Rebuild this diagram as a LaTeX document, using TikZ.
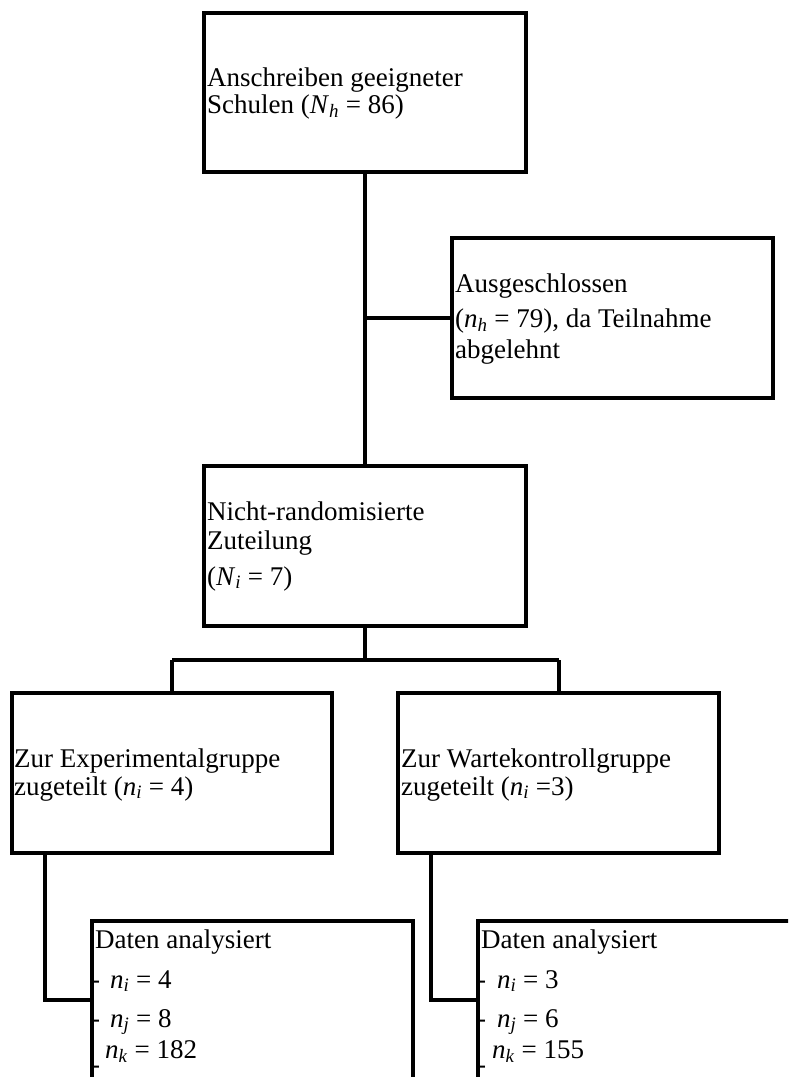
\documentclass[tikz,border=0pt]{standalone}
\usepackage{fontspec}
\setmainfont{Liberation Serif}
% italic variable with italic subscript, e.g. n_i
\newcommand\nsub[2]{\textit{#1}\textsubscript{\textit{#2}}}
\begin{document}
\begin{tikzpicture}[x=1pt,y=-1pt,
  box/.style={draw, line width=4pt, rectangle, anchor=north west, inner sep=0pt, outer sep=0pt},
  link/.style={line width=4pt},
  txt/.style={anchor=base west, inner sep=0pt, font=\fontsize{27}{30}\selectfont}]
\useasboundingbox (0,0) rectangle (788,1077);
\clip (0,0) rectangle (788,1077);

% boxes
\node[box, minimum width=322, minimum height=159] (b1) at (204,13) {};
\node[box, minimum width=321, minimum height=160] (b2) at (452,238) {};
\node[box, minimum width=322, minimum height=160] (b3) at (204,466) {};
\node[box, minimum width=320, minimum height=160] (b4) at (12,693) {};
\node[box, minimum width=321, minimum height=160] (b5) at (398,693) {};
\node[box, minimum width=321, minimum height=220] (b6) at (92,921) {};
\node[box, minimum width=400, minimum height=220] (b7) at (478,921) {};

% connector points
\coordinate (split) at (b3.south |- 0,660);
\coordinate (k6) at (b6.west |- 0,1000);
\coordinate (k7) at (b7.west |- 0,1000);

% connectors
\draw[link] (b3.north) -- (b3.north |- b1.south);
\draw[link] (b3.north |- b2.west) -- (b2.west);
\draw[link] (b3.south) -- (split);
\draw[link] (b4.north |- split) -- (b5.north |- split);
\draw[link] (b4.north |- split) -- (b4.north);
\draw[link] (b5.north |- split) -- (b5.north);
\draw[link] ([xshift=33pt]b4.south west) |- (k6);
\draw[link] ([xshift=33pt]b5.south west) |- (k7);

% texts
\node[txt] (t1a) at (207,86) {Anschreiben geeigneter};
\node[txt] (t1b) at (207,113) {Schulen (\nsub{N}{h} = 86)};

\node[txt] (t2a) at (455,292) {Ausgeschlossen};
\node[txt] (t2b) at (455,327) {(\nsub{n}{h} = 79), da Teilnahme};
\node[txt] (t2c) at (455,358) {abgelehnt};

\node[txt] (t3a) at (207,520) {Nicht-randomisierte};
\node[txt] (t3b) at (207,549) {Zuteilung};
\node[txt] (t3c) at (207,585) {(\nsub{N}{i} = 7)};

\node[txt] (t4a) at (14,767) {Zur Experimentalgruppe};
\node[txt] (t4b) at (14,795) {zugeteilt (\nsub{n}{i} = 4)};

\node[txt] (t5a) at (401,767) {Zur Wartekontrollgruppe};
\node[txt] (t5b) at (401,795) {zugeteilt (\nsub{n}{i} =3)};

\node[txt] (t6a) at (95,948) {Daten analysiert};
\node[txt] (d6b) at (91,988) {-};
\node[txt] (t6b) at (110,988) {\nsub{n}{i} = 4};
\node[txt] (d6c) at (91,1027) {-};
\node[txt] (t6c) at (110,1027) {\nsub{n}{j} = 8};
\node[txt] (d6d) at (91,1073) {-};
\node[txt] (t6d) at (105,1058) {\nsub{n}{k} = 182};

\node[txt] (t7a) at (481,948) {Daten analysiert};
\node[txt] (d7b) at (477,988) {-};
\node[txt] (t7b) at (497,988) {\nsub{n}{i} = 3};
\node[txt] (d7c) at (477,1027) {-};
\node[txt] (t7c) at (497,1027) {\nsub{n}{j} = 6};
\node[txt] (d7d) at (477,1073) {-};
\node[txt] (t7d) at (492,1058) {\nsub{n}{k} = 155};
\end{tikzpicture}
\end{document}
